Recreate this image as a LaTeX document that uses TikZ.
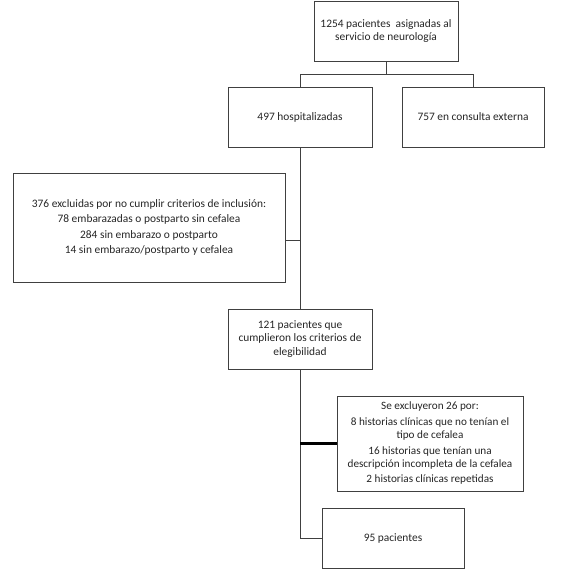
\documentclass[tikz,border=0pt]{standalone}
\usepackage{fontspec}
\setmainfont{Carlito}
\begin{document}
\begin{tikzpicture}[x=1pt,y=-1pt,
  box/.style={draw=black!75, line width=0.9pt, fill=white, align=center, inner sep=2pt,
    font=\fontsize{11.4}{13.2}\selectfont, text=black!85},
  conn/.style={draw=black!75, line width=0.9pt}]
\useasboundingbox (0,0) rectangle (584,572);
\node[box, minimum width=144, minimum height=60] (top) at (386,31) {1254 pacientes \ asignadas al\\servicio de neurología};
\node[box, minimum width=144, minimum height=60] (hosp) at (300,117) {497 hospitalizadas};
\node[box, minimum width=142, minimum height=60] (ext) at (473,117) {757 en consulta externa};
\node[box, minimum width=272, minimum height=109, font=\fontsize{11.4}{15.5}\selectfont] (exc1) at (149,227.5) {376 excluidas por no cumplir criterios de inclusión:\\78 embarazadas o postparto sin cefalea\\284 sin embarazo o postparto\\14 sin embarazo/postparto y cefalea};
\node[box, minimum width=144, minimum height=60] (elig) at (300,339) {121 pacientes que\\cumplieron los criterios de\\elegibilidad};
\node[box, minimum width=186, minimum height=95, font=\fontsize{11.2}{12.8}\selectfont] (exc2) at (430,443.5) {Se excluyeron 26 por:\\[3pt]8 historias clínicas que no tenían el\\tipo de cefalea\\[3pt]16 historias que tenían una\\descripción incompleta de la cefalea\\[3pt]2 historias clínicas repetidas};
\node[box, minimum width=142, minimum height=60] (p95) at (393,538) {95 pacientes};
\coordinate (j1) at (386,74);
\coordinate (b1) at (300,240);
\coordinate (b2) at (300,443.5);
\coordinate (c95) at (300,538);
\draw[conn] (top.south) -- (j1);
\draw[conn] (hosp.north) -- (hosp.north |- j1) -| (ext.north);
\draw[conn] (hosp.south) -- (elig.north);
\draw[conn] (b1) -- (b1 -| exc1.east);
\draw[conn] (elig.south) -- (c95) -- (p95.west);
\draw[draw=black, line width=3pt] (b2) -- (exc2.west);
\end{tikzpicture}
\end{document}
